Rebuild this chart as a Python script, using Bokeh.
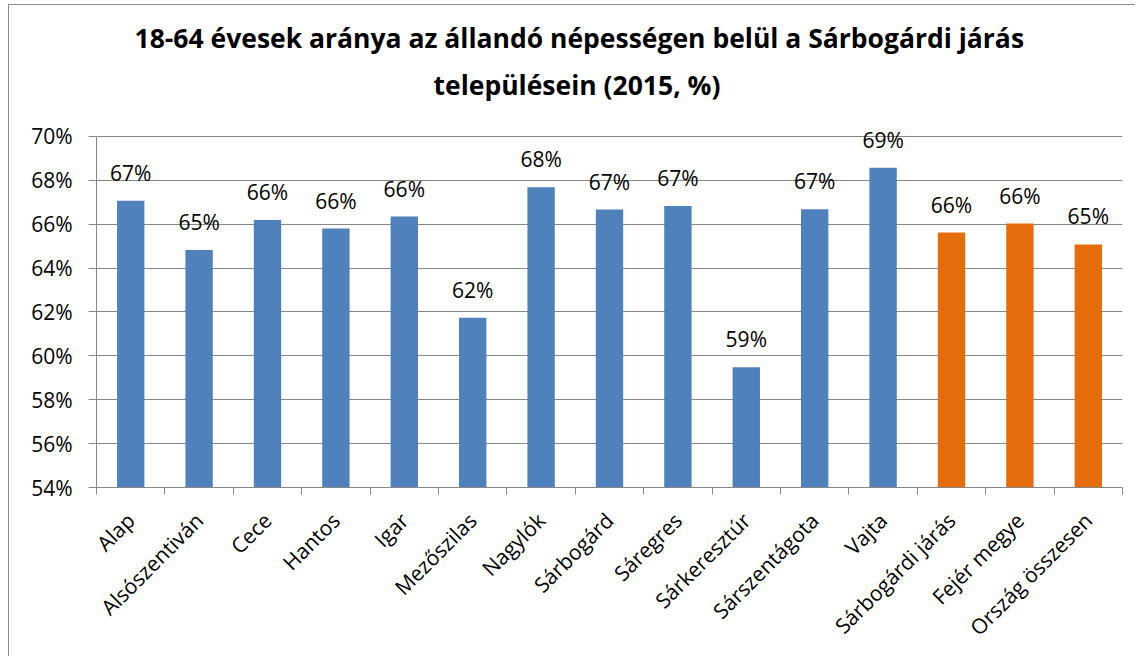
import math
from bokeh.plotting import figure
from bokeh.models import ColumnDataSource, FixedTicker, Range1d, Title
from bokeh.core.properties import value
from bokeh.embed import file_html
from bokeh.resources import INLINE

categories = ["Alap", "Alsószentiván", "Cece", "Hantos", "Igar", "Mezőszilas",
              "Nagylók", "Sárbogárd", "Sáregres", "Sárkeresztúr", "Sárszentágota",
              "Vajta", "Sárbogárdi járás", "Fejér megye", "Ország összesen"]
values = [67.07, 64.82, 66.19, 65.80, 66.35, 61.74, 67.68, 66.67, 66.83, 59.48,
          66.68, 68.57, 65.62, 66.03, 65.08]
labels = ["67%", "65%", "66%", "66%", "66%", "62%", "68%", "67%", "67%", "59%",
          "67%", "69%", "66%", "66%", "65%"]
groups = ["település"] * 12 + ["összesítő"] * 3
y_ticks = [54, 56, 58, 60, 62, 64, 66, 68, 70]
title_lines = ["18-64 évesek aránya az állandó népességen belül a Sárbogárdi járás",
               "településein (2015, %)"]

BLUE = "#4F81BD"
ORANGE = "#E46C0A"
GRAY = "#878787"
FONT = "Open Sans"

n = len(categories)
xs = [i + 0.5 for i in range(n)]
colors = [BLUE if g == "település" else ORANGE for g in groups]
src = ColumnDataSource(dict(x=xs, top=values, label=labels, color=colors))

p = figure(width=1127, height=652, output_backend="svg", toolbar_location=None,
           x_range=Range1d(0, n), y_range=Range1d(y_ticks[0], y_ticks[-1] + 1),
           min_border_left=87, min_border_right=14, min_border_top=109,
           min_border_bottom=170, outline_line_color=None,
           background_fill_color="white", border_fill_color="white",
           margin=(4, 0, 0, 8),
           styles={"border-left": "1px solid #8c8c8c",
                   "border-top": "1px solid #8c8c8c"})

p.vbar(x="x", top="top", bottom=y_ticks[0], width=0.4, fill_color="color",
       line_color=None, source=src)
p.text(x="x", y="top", text="label", text_align="center", text_baseline="alphabetic",
       y_offset=-28, text_font=value(FONT), text_font_size="21px",
       text_color="black", source=src)

# x axis
xa = p.xaxis[0]
xa.ticker = FixedTicker(ticks=xs, minor_ticks=list(range(n + 1)))
xa.major_label_overrides = {x: c for x, c in zip(xs, categories)}
xa.major_label_orientation = math.pi / 4
xa.major_tick_in = 0
xa.major_tick_out = 0
xa.minor_tick_in = 0
xa.minor_tick_out = 7
xa.minor_tick_line_color = GRAY
xa.axis_line_color = GRAY
xa.major_label_text_font = FONT
xa.major_label_text_font_size = "21px"
xa.major_label_text_color = "black"
xa.major_label_standoff = 22

# y axis
ya = p.yaxis[0]
ya.ticker = FixedTicker(ticks=y_ticks, minor_ticks=[])
ya.bounds = (y_ticks[0], y_ticks[-1])
ya.major_label_overrides = {t: f"{t}%" for t in y_ticks}
ya.major_tick_in = 0
ya.major_tick_out = 8
ya.major_tick_line_color = GRAY
ya.axis_line_color = GRAY
ya.major_label_text_font = FONT
ya.major_label_text_font_size = "21px"
ya.major_label_text_color = "black"
ya.major_label_standoff = 16

p.xgrid.grid_line_color = None
p.ygrid.grid_line_color = GRAY
p.ygrid.ticker = FixedTicker(ticks=y_ticks)

# title: two lines, outermost added last
p.add_layout(Title(text=title_lines[1], align="left", offset=337,
                   text_font=FONT, text_font_size="26.5px", text_font_style="bold",
                   text_color="black", standoff=24), "above")
p.add_layout(Title(text=title_lines[0], align="left", offset=38,
                   text_font=FONT, text_font_size="26.5px", text_font_style="bold",
                   text_color="black", standoff=-6), "above")

open("out.html", "w").write(file_html(p, INLINE))
